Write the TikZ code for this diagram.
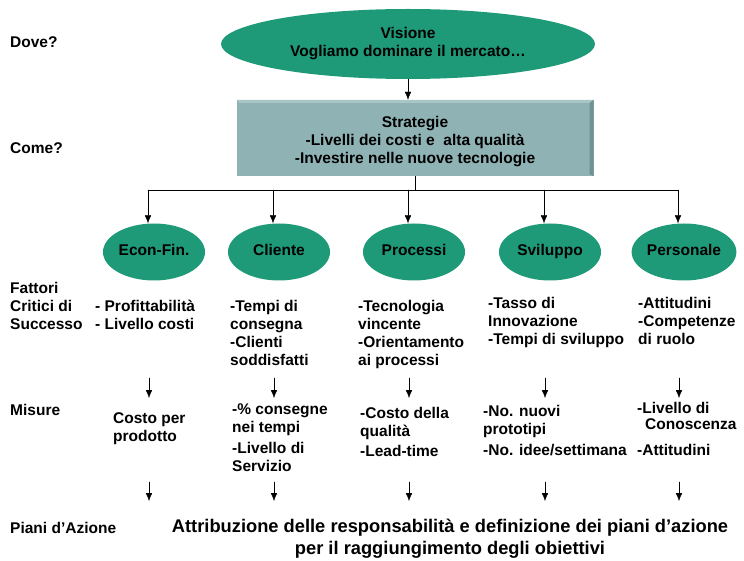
\documentclass[tikz,border=0pt]{standalone}
\usepackage{fontspec}
\setmainfont{Liberation Sans}
\usetikzlibrary{shapes.geometric,arrows.meta,calc,positioning}
\definecolor{verde}{HTML}{1E9A78}
\definecolor{grigio}{HTML}{8FB2B4}
\definecolor{grigioscuro}{HTML}{6F9294}
\definecolor{grigiochiaro}{HTML}{A9C6C7}

\begin{document}
\begin{tikzpicture}[x=1pt,y=-1pt,line join=round,line cap=round,thin,
  font=\fontsize{15.5}{18}\selectfont\bfseries,
  ell/.style={ellipse,fill=verde,inner sep=0pt,minimum width=102pt,minimum height=57pt,text height=11pt,text depth=3pt},
  lab/.style={anchor=north west,align=left,inner sep=0pt},
  freccia/.style={-{Latex[length=8pt,width=6.5pt]}}]
\useasboundingbox (0,0) rectangle (744,561);
% livelli a sinistra
\node[lab] (dove) at (10,36) {Dove?};
\node[lab] (come) at (10,142) {Come?};
\node[lab] (fattori) at (10,282) {Fattori\\Critici di\\Successo};
\node[lab] (misure) at (10,404) {Misure};
\node[lab] (piani) at (10,522) {Piani d'Azione};
% visione e strategie
\node[ellipse,fill=verde,minimum width=374pt,minimum height=70pt,align=center,inner sep=0pt] (vis) at (408,44)
  {Visione\\Vogliamo dominare il mercato\dots};
\node[fill=grigio,minimum width=357pt,minimum height=76pt,inner sep=0pt] (str) at (415,138)
  {\raisebox{-4pt}[\height][\depth]{\begin{tabular}{@{}c@{}}Strategie\\-Livelli dei costi e\ \ alta qualità\\-Investire nelle nuove tecnologie\end{tabular}}};
\fill[grigiochiaro] (str.north west) -- (str.north east) -- ++(-4,3) -- ($(str.north west)+(3,3)$) -- cycle;
\fill[grigioscuro] (str.north east) -- (str.south east) -- ++(-4,-2) -- ($(str.north east)+(-4,3)$) -- cycle;
\draw[freccia] (vis.south) -- (vis.south |- str.north);
% aree
\foreach \n/\x/\t in {eco/154/Econ-Fin.,cli/279/Cliente,pro/414/Processi,svi/550/Sviluppo,per/684/Personale}{
  \node[ell] (\n) at (\x,252) {\t};
  \coordinate (\n-a) at (\x-6,190);
  \coordinate (\n-b) at (\x-5,378);
  \coordinate (\n-c) at (\x-5,398);
  \coordinate (\n-d) at (\x-5,482);
  \coordinate (\n-e) at (\x-5,501);
  \draw[freccia] (\n-a) -- (\n.north -| \n-a);
  \draw[freccia] (\n-b) -- (\n-c);
  \draw[freccia] (\n-d) -- (\n-e);
}
\draw (str.south |- eco-a) -- (str.south) (eco-a) -- (per-a);
% fattori critici
\node[lab] (fEco) at (95,300) {- Profittabilità\\- Livello costi};
\node[lab] (fCli) at (230,300) {-Tempi di\\consegna\\-Clienti\\soddisfatti};
\node[lab] (fPro) at (358,300) {-Tecnologia\\vincente\\-Orientamento\\ai processi};
\node[lab] (fSvi) at (488,297) {-Tasso di\\Innovazione\\-Tempi di sviluppo};
\node[lab] (fPer) at (638,297) {-Attitudini\\-Competenze\\di ruolo};
% misure
\node[lab] (mEco) at (113,412) {Costo per\\prodotto};
\node[lab] (mCli) at (232,404) {-\% consegne\\nei tempi\\[3pt]-Livello di\\Servizio};
\node[lab] (mPro) at (360,407) {-Costo della\\qualità\\[2pt]-Lead-time};
\node[lab] (mSvi) at (483,405) {-No. nuovi\\prototipi\\[3pt]-No. idee/settimana};
\node[lab] (mPer) at (637,402) {-Livello di\\[-2pt]\hspace{8pt}Conoscenza\\[8pt]-Attitudini};
% piani d'azione
\node[align=center,inner sep=0pt,font=\fontsize{18.3}{22}\selectfont\bfseries] (att) at (450,539)
  {Attribuzione delle responsabilità e definizione dei piani d'azione\\per il raggiungimento degli obiettivi};
\end{tikzpicture}
\end{document}
